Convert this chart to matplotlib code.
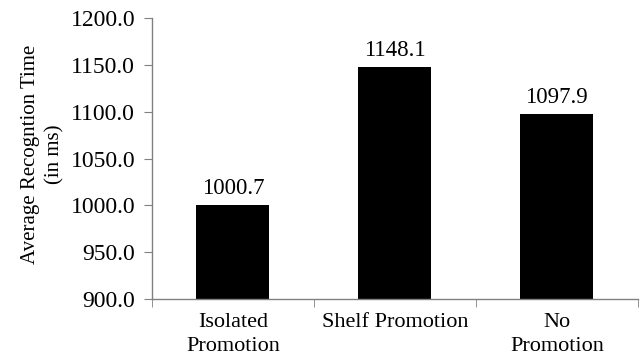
import matplotlib
matplotlib.use("Agg")
import matplotlib.pyplot as plt
import numpy as np

categories = ["Isolated\nPromotion", "Shelf Promotion", "No\nPromotion"]
values = [1000.7, 1148.1, 1097.9]
value_labels = ["1000.7", "1148.1", "1097.9"]
y_ticks = [900, 950, 1000, 1050, 1100, 1150, 1200]

plt.rcParams["font.family"] = ["Liberation Serif", "DejaVu Serif"]
FS = 17

fig = plt.figure(figsize=(6.41, 3.62), dpi=100)
ax = fig.add_axes([0.237, 0.174, 0.758, 0.776])

x = np.arange(len(categories))
ax.bar(x, values, width=0.45, color="black", zorder=2)
for xi, v, lab in zip(x, values, value_labels):
    ax.text(xi, v + 6, lab, ha="center", va="bottom", fontsize=16.5)

ax.set_xlim(-0.5, len(categories) - 0.5)
ax.set_ylim(900, 1200)
ax.set_yticks(y_ticks)
ax.set_yticklabels([f"{t:.1f}" for t in y_ticks], fontsize=FS)
ax.set_xticks(x)
ax.set_xticklabels(categories, fontsize=16, linespacing=1.35)
ax.set_xticks(np.arange(len(categories) + 1) - 0.5, minor=True)
ax.tick_params(axis="x", which="major", length=0, pad=10)
ax.tick_params(axis="x", which="minor", length=6, direction="out", color="#808080")
ax.tick_params(axis="y", length=6, direction="out", color="#808080", pad=6)

for s in ["top", "right"]:
    ax.spines[s].set_visible(False)
for s in ["left", "bottom"]:
    ax.spines[s].set_color("#808080")
    ax.spines[s].set_linewidth(1.0)

ax.set_ylabel("Average Recogntion Time\n(in ms)", fontsize=15, linespacing=1.35)
ax.yaxis.set_label_coords(-0.18, 0.516)

fig.savefig("out.png", dpi=100)
